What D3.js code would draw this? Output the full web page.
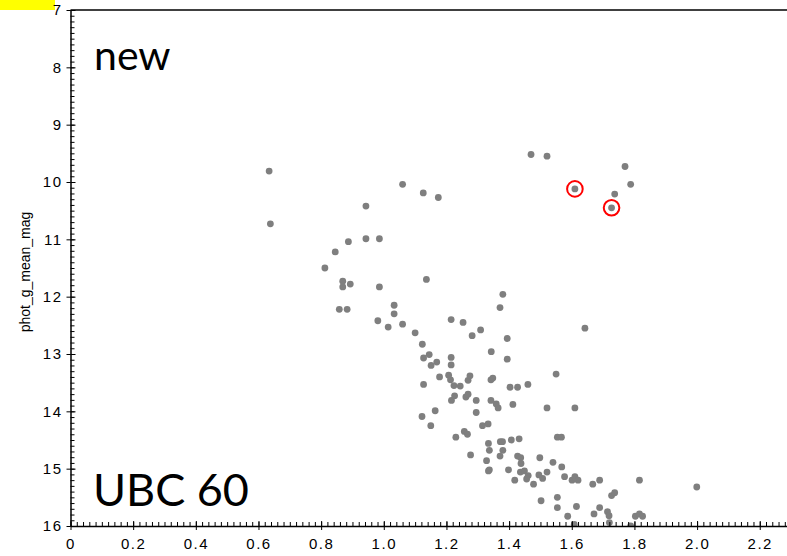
<!DOCTYPE html>
<html>
<head>
<meta charset="utf-8">
<script src="https://cdn.jsdelivr.net/npm/d3@7"></script>
<style>
  html, body { margin: 0; padding: 0; background: #fff; }
  svg { display: block; }
  .tick text { font-family: "Liberation Sans", Arial, sans-serif; font-size: 15px; letter-spacing: 1.5px; fill: #000; }
</style>
</head>
<body>
<svg id="cmd" width="787" height="556"></svg>
<script>
// BP-RP colour and G magnitude of the cluster members
const colour = [
  0.634, 0.638, 0.812, 0.845, 0.887, 0.943, 1.060, 1.126, 1.174, 0.943,
  0.986, 0.869, 0.869, 0.893, 0.986, 1.136, 0.858, 0.883, 1.033, 1.033,
  0.981, 1.014, 1.060, 1.100, 1.470, 1.521, 1.770, 1.788, 1.737, 1.380,
  1.371, 1.215, 1.253, 1.309, 1.282, 1.394, 1.642, 1.123, 1.127, 1.145,
  1.151, 1.169, 1.215, 1.215, 1.178, 1.127, 1.207, 1.213, 1.224, 1.244,
  1.269, 1.275, 1.216, 1.226, 1.262, 1.269, 1.295, 1.343, 1.394, 1.403,
  1.427, 1.460, 1.342, 1.348, 1.342, 1.359, 1.365, 1.295, 1.412, 1.122,
  1.164, 1.150, 1.230, 1.257, 1.267, 1.315, 1.333, 1.277, 1.334, 1.337,
  1.328, 1.334, 1.337, 1.372, 1.379, 1.380, 1.371, 1.398, 1.407, 1.432,
  1.418, 1.427, 1.437, 1.438, 1.436, 1.449, 1.461, 1.456, 1.478, 1.495,
  1.507, 1.521, 1.498, 1.540, 1.568, 1.577, 1.521, 1.550, 1.554, 1.567,
  1.610, 1.601, 1.610, 1.620, 1.502, 1.554, 1.554, 1.587, 1.615, 1.667,
  1.689, 1.671, 1.689, 1.727, 1.737, 1.714, 1.719, 1.720, 1.803, 1.816,
  1.826, 1.816, 1.999, 1.608, 1.788
];
const gMag = [
  9.81, 10.73, 11.50, 11.22, 11.04, 10.42, 10.04, 10.19, 10.27, 10.99,
  10.99, 11.73, 11.83, 11.78, 11.83, 11.70, 12.22, 12.22, 12.15, 12.30,
  12.42, 12.53, 12.48, 12.63, 9.52, 9.55, 9.73, 10.04, 10.21, 11.96,
  12.19, 12.40, 12.45, 12.58, 12.68, 12.73, 12.55, 12.83, 13.07, 13.01,
  13.20, 13.14, 13.06, 13.19, 13.40, 13.53, 13.37, 13.45, 13.55, 13.56,
  13.46, 13.38, 13.81, 13.73, 13.75, 13.70, 13.81, 12.96, 13.09, 13.58,
  13.58, 13.53, 13.45, 13.42, 13.81, 13.87, 13.94, 14.02, 13.88, 14.09,
  13.99, 14.25, 14.45, 14.35, 14.40, 14.25, 14.22, 14.76, 14.56, 14.68,
  14.86, 15.04, 15.02, 14.53, 14.53, 14.68, 14.78, 15.02, 14.50, 14.48,
  15.20, 14.78, 14.81, 14.91, 15.06, 15.04, 15.12, 15.18, 15.27, 15.11,
  15.17, 15.06, 14.81, 14.89, 14.97, 15.14, 13.94, 13.35, 14.45, 14.45,
  13.94, 15.20, 15.14, 15.20, 15.56, 15.50, 15.68, 15.83, 15.66, 15.27,
  15.20, 15.79, 15.68, 15.47, 15.42, 15.75, 15.82, 15.94, 15.83, 15.79,
  15.83, 15.20, 15.32, 15.97, 16.00
];

// newly identified members, ringed in red
const newColour = [1.610, 1.727];
const newMag = [10.12, 10.45];

const xTicks = [0, 0.2, 0.4, 0.6, 0.8, 1.0, 1.2, 1.4, 1.6, 1.8, 2.0, 2.2];
const yTicks = [7, 8, 9, 10, 11, 12, 13, 14, 15, 16];

const svg = d3.select('#cmd');
const plotL = 70.5, plotT = 10, plotR = 787, plotB = 526;

const x = d3.scaleLinear().domain([0, 2.287]).range([plotL, plotR]);
const y = d3.scaleLinear().domain([7, 16]).range([plotT, plotB]);

svg.append('rect')
  .attr('x', 0).attr('y', 0).attr('width', 55).attr('height', 10)
  .attr('fill', '#ffff00');

svg.append('clipPath').attr('id', 'plot')
  .append('rect')
  .attr('x', plotL).attr('y', plotT)
  .attr('width', plotR - plotL).attr('height', plotB - plotT);

const newStars = newColour.map((c, i) => ({ c, m: newMag[i] }));
const stars = colour.map((c, i) => ({ c, m: gMag[i] })).concat(newStars);

const dots = svg.append('g').attr('clip-path', 'url(#plot)');
dots.selectAll('circle.star')
  .data(stars)
  .enter()
  .append('circle')
  .attr('class', 'star')
  .attr('cx', d => x(d.c))
  .attr('cy', d => y(d.m))
  .attr('r', 3.4)
  .attr('fill', '#7f7f7f');

dots.selectAll('circle.ring')
  .data(newStars)
  .enter()
  .append('circle')
  .attr('class', 'ring')
  .attr('cx', d => x(d.c))
  .attr('cy', d => y(d.m))
  .attr('r', 7.8)
  .attr('fill', 'none')
  .attr('stroke', '#ff0000')
  .attr('stroke-width', 2);

// minor ticks point into the plot, majors cross the axis line
const xMinor = d3.range(0, 2.29, 0.02);
const yMinor = d3.range(7, 16.001, 0.1);

const fmtX = d => d === 0 ? '0' : d3.format('.1f')(d);

svg.append('g')
  .attr('transform', `translate(0,${plotB})`)
  .call(d3.axisTop(x).tickValues(xMinor).tickSize(4).tickFormat(''))
  .call(g => g.select('.domain').remove());

svg.append('g')
  .attr('transform', `translate(0,${plotB})`)
  .call(d3.axisTop(x).tickValues(xTicks).tickSize(5).tickFormat(''))
  .call(g => g.select('.domain').remove());

svg.append('g')
  .attr('transform', `translate(0,${plotB})`)
  .call(d3.axisBottom(x).tickValues(xTicks).tickSize(4).tickSizeOuter(0).tickPadding(8).tickFormat(fmtX))
  .call(g => g.select('.domain').attr('stroke-width', 1.5));

svg.append('g')
  .attr('transform', `translate(${plotL},0)`)
  .call(d3.axisRight(y).tickValues(yMinor).tickSize(4).tickFormat(''))
  .call(g => g.select('.domain').remove());

svg.append('g')
  .attr('transform', `translate(${plotL},0)`)
  .call(d3.axisRight(y).tickValues(yTicks).tickSize(5).tickFormat(''))
  .call(g => g.select('.domain').remove());

svg.append('g')
  .attr('transform', `translate(${plotL},0)`)
  .call(d3.axisLeft(y).tickValues(yTicks).tickSize(4).tickSizeOuter(0).tickPadding(4).tickFormat(d3.format('d')))
  .call(g => g.select('.domain').attr('stroke-width', 1.5));

svg.append('line')
  .attr('x1', plotL).attr('x2', plotR)
  .attr('y1', plotT).attr('y2', plotT)
  .attr('stroke', '#000').attr('stroke-width', 1.5);

svg.append('text')
  .attr('transform', 'translate(30,272) rotate(-90)')
  .attr('text-anchor', 'middle')
  .attr('font-family', '"Liberation Sans", Arial, sans-serif')
  .attr('font-size', 14)
  .text('phot_g_mean_mag');

svg.append('text')
  .attr('x', 94).attr('y', 70)
  .attr('font-family', 'Lato, sans-serif')
  .attr('font-size', 41)
  .text('new');

svg.append('text')
  .attr('x', 93).attr('y', 506)
  .attr('font-family', 'Lato, sans-serif')
  .attr('font-size', 45)
  .text('UBC 60');
</script>
</body>
</html>
